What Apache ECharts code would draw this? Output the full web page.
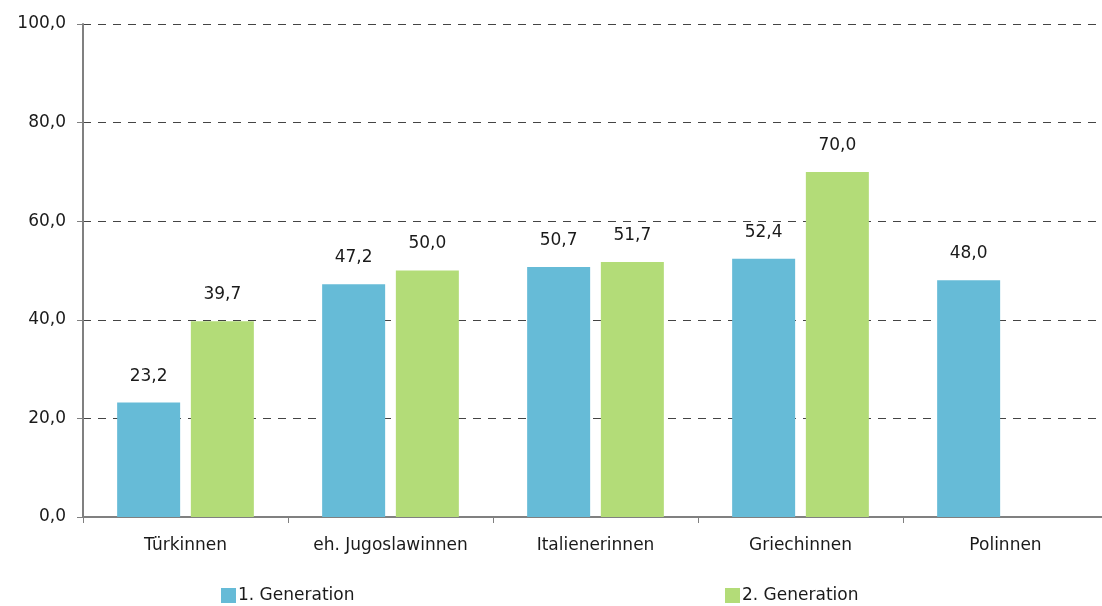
<!DOCTYPE html>
<html>
<head>
<meta charset="utf-8">
<script src="https://cdn.jsdelivr.net/npm/echarts@6/dist/echarts.min.js"></script>
<style>html,body{margin:0;padding:0;background:#fff}#c{width:1102px;height:606px}</style>
</head>
<body>
<div id="c"></div>
<script>
const categories = ['Türkinnen', 'eh. Jugoslawinnen', 'Italienerinnen', 'Griechinnen', 'Polinnen'];
const gen1 = [23.2, 47.2, 50.7, 52.4, 48.0];
const gen2 = [39.7, 50.0, 51.7, 70.0, null];
const seriesNames = ['1. Generation', '2. Generation'];

const fmt = v => v.toFixed(1).replace('.', ',');
const font = 'DejaVu Sans';
const fs = 17;
const txt = '#1a1a1a';
const chart = echarts.init(document.getElementById('c'));
chart.setOption({
  animation: false,
  textStyle: { fontFamily: font },
  grid: { left: 83, top: 24, right: -6, bottom: 89, outerBoundsMode: 'none', containLabel: false },
  legend: [
    { data: [seriesNames[0]], left: 216, top: 582, icon: 'rect', itemWidth: 15, itemHeight: 15, itemGap: 4,
      textStyle: { fontFamily: font, fontSize: fs, color: txt, padding: [0, 0, 0, -3] } },
    { data: [seriesNames[1]], left: 720, top: 582, icon: 'rect', itemWidth: 15, itemHeight: 15,
      textStyle: { fontFamily: font, fontSize: fs, color: txt, padding: [0, 0, 0, -3] } }
  ],
  xAxis: {
    type: 'category', data: categories,
    axisLine: { lineStyle: { color: '#808080', width: 2 } },
    axisTick: { show: true, length: 6, lineStyle: { color: '#808080' } },
    axisLabel: { fontFamily: font, fontSize: fs, color: txt, margin: 20 }
  },
  yAxis: {
    type: 'value', min: 0, max: 100, interval: 20,
    axisLine: { show: true, lineStyle: { color: '#808080', width: 2 } },
    axisTick: { show: true, length: 6, lineStyle: { color: '#808080' } },
    axisLabel: { fontFamily: font, fontSize: fs, color: txt, margin: 17, formatter: fmt },
    splitLine: { lineStyle: { color: '#444', type: [8, 7], width: 1 } }
  },
  series: [
    { name: seriesNames[0], type: 'bar', data: gen1, barWidth: 63, barGap: '17%',
      itemStyle: { color: '#66BBD7' },
      label: { show: true, position: 'top', distance: 18, fontFamily: font, fontSize: fs, color: txt, formatter: p => fmt(p.value) } },
    { name: seriesNames[1], type: 'bar', data: gen2, barWidth: 63,
      itemStyle: { color: '#B3DC78' },
      label: { show: true, position: 'top', distance: 18, fontFamily: font, fontSize: fs, color: txt, formatter: p => fmt(p.value) } }
  ]
});
</script>
</body>
</html>
